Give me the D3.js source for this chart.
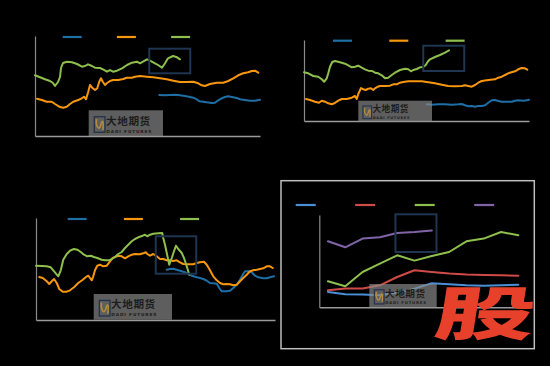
<!DOCTYPE html>
<html><head><meta charset="utf-8">
<script src="https://cdn.jsdelivr.net/npm/d3@7"></script>
<style>html,body{margin:0;background:#000}svg{display:block}</style></head>
<body>
<svg id="c" width="550" height="366"></svg>
<script>
// ---------- DATA (x = week index, y = value) ----------
const p1Green = [[0,60.7],[2,58.7],[4,56.7],[6,55],[7.2,53],[8,50],[9.2,54],[10,59],[10.4,68],[11.2,73],[12.8,74.3],[14.8,73.7],[16.8,72],[18.8,69.3],[20,70],[21.2,71.7],[22.8,70],[24,68.3],[26,68],[27.2,66.7],[28.8,64.3],[30,66],[31.2,64.3],[32.8,65.3],[34.8,67.7],[36.8,71],[38.8,73.3],[40.8,74.3],[42,72.7],[43.2,74.3],[44.8,76.7],[46,75.3],[48,72.7],[49.2,71],[50.8,68.3],[52,72.7],[53.2,77.7],[55.2,80],[56.8,78.7],[58,76.7]];
const p1Orange = [[0.8,37.3],[2.7,36],[4.7,34.3],[6.7,34.3],[8,32],[9.7,29.3],[11.3,28.3],[12.7,29.3],[14,32],[15.3,34.3],[17.3,36],[18.7,37.7],[19.6,39.3],[20.4,36.7],[21.3,44.3],[22,51],[23.1,47.7],[24,46],[24.9,47.7],[25.7,54.3],[26.4,57.7],[27.1,54.3],[28,51],[28.7,52.7],[30,55],[31.3,56],[33.3,56],[35.3,57],[36.7,58.3],[38.7,58.3],[40,59.3],[42,60],[44.7,59.3],[47.3,58.7],[50,57.7],[52.7,56.7],[55.3,55.3],[58,54],[60.7,54],[63.3,54.3],[65.3,52.7],[66.7,50.7],[68,50],[70,52],[72.7,53.3],[75.3,53.3],[77.3,55],[79.3,57.7],[81.3,60.7],[83.3,62.7],[85.3,63.7],[86.7,65],[88,65.3],[89.3,63.3]];
const p1Blue = [[49.7,41],[52,40.7],[54,41],[56,41.3],[58,40.7],[60,40],[62,39],[63.3,38.3],[64.7,36.7],[65.7,34.7],[67.3,34.3],[68.7,33.7],[70.7,33],[72,33.3],[73.3,35.7],[74.7,37.7],[76,39],[77.3,39.7],[78.7,39],[80.7,38],[82,36.7],[84,36],[86,35.3],[88,35.3],[90,36.3]];

const p2Green = [[0,48.7],[1.7,47.7],[3.7,45],[5.7,44.3],[7.1,41.7],[8.1,39.3],[9.1,42.7],[9.7,47.7],[10.4,54.3],[11.3,59],[12.4,60],[14.4,58.7],[16.4,57.3],[17.7,55.7],[19.1,53.7],[20.4,54.3],[21.7,55.3],[23.1,53.3],[24.4,51.7],[25.7,50.3],[27.3,50],[28.4,48.3],[29.7,47.7],[31.1,45.7],[32.4,42.7],[33.7,43.3],[35.1,46],[36.4,48.3],[38.4,51],[40.4,52.3],[41.7,51.7],[42.8,49.7],[43.7,51],[45.1,52],[46.4,53.7],[47.7,54],[48.7,56],[49.5,59.3],[50.4,61.7],[52.4,64],[54.4,66],[56.4,68.3],[58,70.7]];
const p2Orange = [[0.8,22],[2.4,21],[4.4,19.3],[6,18.3],[7.1,20.3],[8.4,19.3],[9.7,17.7],[11.1,16.7],[12.1,17.7],[13.7,20.3],[15.1,22],[17.1,22],[19.1,23.3],[20.4,25],[21.1,22],[21.7,27],[22.8,33],[23.7,31.7],[24.7,31],[25.7,32.3],[26.8,32.7],[27.7,31],[28.4,32.7],[29.5,34.3],[30.4,35],[32.4,35],[34.4,35.3],[35.7,36.7],[37.1,36.7],[38.4,38.3],[39.7,39],[41.7,39.7],[44.4,39.7],[47.1,39.7],[49.7,38.7],[52.4,37.7],[55.1,36.3],[57.7,35],[60.4,34.7],[63.1,35],[64.4,35.7],[65.7,35],[67.1,34.3],[68.4,36],[69.7,38.3],[71.1,40],[73.7,41],[76.4,41.7],[77.7,43.3],[79.1,44.3],[80.4,46],[81.7,47.7],[83.3,49],[84.4,49.7],[85.7,51.7],[87.1,53],[88.4,52.7],[89.3,51.3]];
const p2Blue = [[49.1,16.7],[51.1,16.3],[53.7,16.7],[56.4,16.7],[59.1,16.3],[61.7,16.7],[63.1,17],[64.4,15.7],[65.7,14.7],[67.1,15],[68.4,14.3],[69.7,15],[71.1,15],[72.4,15.7],[73.7,18.3],[75.1,20.7],[76.4,21],[77.7,20],[79.1,19.3],[81.7,19.3],[83.1,19.3],[84.4,20.3],[85.7,20.7],[87.7,20.3],[89.1,20.7],[90,21.3]];

const p3Green = [[0,54.3],[2.3,54],[4.3,53.7],[5.9,52.7],[6.9,49.7],[8,46.3],[8.9,43.7],[9.9,49.7],[10.9,60.3],[12.3,66],[13.6,69.3],[15.2,71],[16.5,70.3],[17.9,68],[19.2,65.3],[20.5,63.7],[21.9,64.3],[23.2,63],[24.5,62],[26.3,60.3],[27.6,59.7],[29.3,59.7],[30.3,61],[31.6,63],[32.9,66],[34.3,68],[35.6,72],[36.9,75.3],[38.3,78.7],[39.6,81],[40.9,82.7],[42.7,84.3],[43.6,85.3],[44.5,83.7],[45.6,85.3],[46.9,86.3],[48.9,86.7],[50.5,87],[50.9,82],[51.6,75.3],[52.3,67],[53.3,55.3],[54.3,62],[55.2,68.7],[56,74.3],[56.9,71],[58.3,67],[59.2,62],[60.3,53.7],[61.3,45.3]];
const p3Orange = [[1.3,43],[2.7,42],[4.3,38.7],[5.3,36],[6.3,38.7],[7.2,41],[8.3,37],[9.3,31],[10.7,28.3],[12.3,28.3],[13.6,29.7],[15.2,32.7],[16.9,37],[18.7,40.3],[20,43],[20.9,44.3],[21.6,42],[22.3,39.7],[22.9,43.7],[23.6,49.7],[24.5,54.3],[25.6,55.3],[26.9,53.7],[28.3,54.3],[29.6,58.7],[30.7,62],[31.6,63],[32.9,64.3],[34.3,63.7],[35.6,61.7],[36.9,63.7],[38.3,65.3],[39.6,66],[41.6,65.7],[43.2,67],[44,67.7],[44.5,66],[45.6,64.3],[46.9,66],[48.3,63.7],[49.6,61],[50.9,61],[52.3,59.7],[53.6,59.7],[54.9,59],[56.3,59.7],[57.6,57.7],[58.9,56],[60.3,55.7],[61.6,55.7],[62.9,55.7],[64.3,57],[65.6,57.7],[67.2,58.3],[68.3,55.3],[69.6,49.7],[70.9,43.7],[72.3,39.7],[73.6,37],[74.9,35.7],[76.3,36],[77.6,35.7],[78.9,34.7],[80.3,35.3],[81.6,38.7],[82.9,42],[84.3,45.3],[85.6,48.7],[86.9,49.7],[88.3,50.3],[89.6,51],[90.9,51.7],[92.3,53.7],[93.6,53.7],[94.7,52]];
const p3Blue = [[52.3,50.3],[53.6,51],[54.9,51.3],[56.3,50.3],[58.3,48.7],[60.3,47],[62.3,44.3],[64.3,42.7],[65.6,42],[66.9,41],[68.3,39.3],[69.6,37],[70.9,36.7],[72.3,36.3],[73.3,32],[74.3,28.7],[76.3,28.7],[77.6,29.3],[78.9,32],[80.3,35.3],[81.6,40.3],[82.7,45.3],[83.6,48.7],[84.9,48.7],[86.3,47.7],[87.6,44.3],[88.9,42.7],[90.9,41.7],[92.3,41.7],[93.6,42.7],[95.2,43.7]];

const p4Blue   = [15.3,13,12.7,12,14.7,18.7,24,23,22,21.5,22,22.5];
const p4Red    = [17,18.7,18.7,22,30.3,37,35.3,33.7,32.7,32.3,32,31.5];
const p4Green  = [26,21,35.3,43.7,52,46.7,51.3,55.3,66,68.7,75.3,72];
const p4Purple = [66,60,68.7,70,74.3,75.3,76.7];

// highlight boxes [x0, x1, yTop, yBottom] in data units
const p1Box = [45.7, 62.1, 87.3, 62.7];
const p2Box = [47.7, 64.1, 75.3, 50];
const p3Box = [47.9, 64.1, 83.7, 46.3];
const p4Box = [3.9, 6.27, 93, 55.3];

// ---------- STYLE ----------
const C = {blue:"#1f6fa6", orange:"#f7960f", green:"#8fbf4d", blue4:"#4a8fd6", red:"#cf4b48", purple:"#8064a8", box:"#1f3552", axis:"#8a8a8a"};

const svg = d3.select("#c");
svg.append("rect").attr("width",550).attr("height",366).attr("fill","#000");

function panel(cfg){
  const g = svg.append("g");
  const x = d3.scaleLinear().domain(cfg.xd).range([cfg.l, cfg.r]);
  const y = d3.scaleLinear().domain(cfg.yd).range([cfg.b, cfg.t]);
  g.append("g").attr("transform",`translate(0,${cfg.b})`)
    .call(d3.axisBottom(x).tickValues([]).tickSizeOuter(0))
    .call(s=>s.select(".domain").attr("stroke","#9a9a9a").attr("stroke-width",1.6));
  g.append("g").attr("transform",`translate(${cfg.l},0)`)
    .call(d3.axisLeft(y).tickValues([]).tickSizeOuter(0))
    .call(s=>s.select(".domain").attr("stroke",C.axis).attr("stroke-width",1.2));
  const line = d3.line().x(d=>x(d[0])).y(d=>y(d[1])).curve(d3.curveLinear);
  cfg.series.forEach(s=>{
    g.append("path").datum(s.data).attr("d",line).attr("fill","none")
      .attr("stroke",s.color).attr("stroke-width",2).attr("stroke-linejoin","round").attr("stroke-linecap","round");
  });
  cfg.series.slice().sort((a,b)=>a.order-b.order).forEach((s,i)=>{
    const lx = cfg.legX + i*cfg.legStep;
    g.append("line").attr("x1",lx).attr("x2",lx+cfg.legLen).attr("y1",cfg.legY).attr("y2",cfg.legY)
      .attr("stroke",s.color).attr("stroke-width",2.2);
  });
  const bx = cfg.box;
  g.append("rect").attr("x",x(bx[0])).attr("y",y(bx[2]))
    .attr("width",x(bx[1])-x(bx[0])).attr("height",y(bx[3])-y(bx[2]))
    .attr("fill","none").attr("stroke",C.box).attr("stroke-width",2);
  watermark(g, cfg.wm);
}

function watermark(g, [wx,wy,ww,wh]){
  const k = wh/25.7;
  const w = g.append("g");
  w.append("rect").attr("x",wx).attr("y",wy).attr("width",ww).attr("height",wh)
    .attr("fill","#8a8a8a").attr("opacity",0.68);
  const lx = wx+5.6*k, ly = wy+6.4*k, lw = 10.7*k, lh = 15.6*k;
  w.append("rect").attr("x",lx).attr("y",ly).attr("width",lw).attr("height",lh)
    .attr("fill","none").attr("stroke","#233349").attr("stroke-width",1.3*k);
  w.append("path").attr("d",`M${lx+lw*0.2},${ly+lh*0.15} C${lx+lw*0.1},${ly+lh*0.6} ${lx+lw*0.45},${ly+lh*0.95} ${lx+lw*0.6},${ly+lh*0.55} S${lx+lw*0.9},${ly+lh*0.2} ${lx+lw*0.8},${ly+lh*0.85}`)
    .attr("fill","none").attr("stroke","#b48a3c").attr("stroke-width",1.6*k);
  w.append("text").attr("x",wx+17.3*k).attr("y",wy+14.4*k)
    .attr("font-family","Noto Sans CJK SC, sans-serif").attr("font-weight",700)
    .attr("font-size",10.6*k).attr("fill","#1d1d1d").attr("letter-spacing",0.6*k).text("大地期货");
  w.append("text").attr("x",wx+17.6*k).attr("y",wy+22.2*k)
    .attr("font-family","DejaVu Sans, sans-serif").attr("font-weight",700)
    .attr("font-size",4.3*k).attr("fill","#1d1d1d").attr("letter-spacing",0.85*k).text("DADI FUTURES");
}

panel({l:35,r:260,t:36,b:136,xd:[0,90],yd:[0,100],
  series:[{data:p1Blue,color:C.blue,order:0},{data:p1Orange,color:C.orange,order:1},{data:p1Green,color:C.green,order:2}],
  legX:62.7,legStep:54.2,legLen:19,legY:37,box:p1Box,wm:[88.7,110.3,74.3,25.7]});
panel({l:304,r:529,t:40,b:121,xd:[0,90],yd:[0,81],
  series:[{data:p2Blue,color:C.blue,order:0},{data:p2Orange,color:C.orange,order:1},{data:p2Green,color:C.green,order:2}],
  legX:333,legStep:56.3,legLen:19,legY:40.7,box:p2Box,wm:[358.3,100.7,73.7,21]});
panel({l:36,r:275,t:218,b:320,xd:[0,95.6],yd:[0,102],
  series:[{data:p3Blue,color:C.blue,order:0},{data:p3Orange,color:C.orange,order:1},{data:p3Green,color:C.green,order:2}],
  legX:67.7,legStep:56.2,legLen:19,legY:219,box:p3Box,wm:[93.7,294,78.3,25.7]});

svg.append("rect").attr("x",281).attr("y",180.7).attr("width",253.3).attr("height",168)
  .attr("fill","none").attr("stroke","#bdbdbd").attr("stroke-width",1.5);
const idx = a => a.map((v,i)=>[i,v]);
panel({l:319.3,r:527,t:215,b:307.3,xd:[-0.5,11.5],yd:[0,92.3],
  series:[{data:idx(p4Blue),color:C.blue4,order:0},{data:idx(p4Red),color:C.red,order:1},{data:idx(p4Green),color:C.green,order:2},{data:idx(p4Purple),color:C.purple,order:3}],
  legX:295.7,legStep:59.5,legLen:20,legY:205,box:p4Box,wm:[369.3,284,67.4,23.3]});

const gu = svg.append("text").attr("x",0).attr("y",0)
  .attr("font-family","Noto Sans CJK SC, sans-serif").attr("font-weight",900)
  .attr("font-size",100).attr("fill","#e8412b").text("股");
const bb = gu.node().getBBox();
const tx0=436.7, ty0=271.7, tw=95, th=76;
const sx = tw/(bb.width*0.95), sy = th/(bb.height*0.9);
gu.attr("transform",`translate(${tx0+tw*0.06},${ty0}) skewX(-9) scale(${sx},${sy}) translate(${-bb.x},${-bb.y - bb.height*0.05})`);
</script>
</body></html>
